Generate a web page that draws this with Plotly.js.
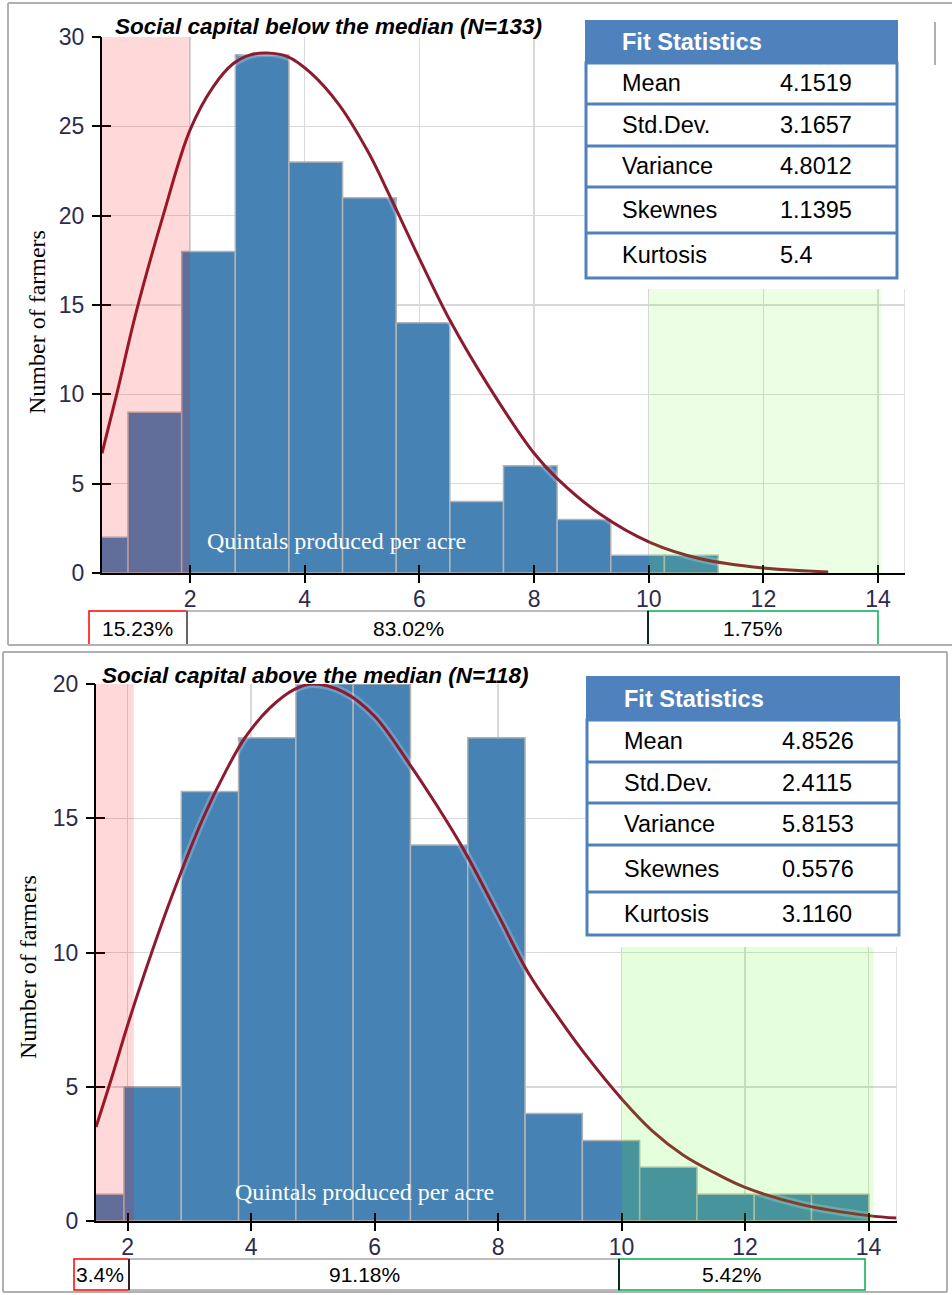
<!DOCTYPE html>
<html>
<head>
<meta charset="utf-8">
<script src="https://cdn.plot.ly/plotly-3.0.1.min.js"></script>
<style>
  html, body { margin: 0; padding: 0; background: #fff; }
  #chart { width: 952px; height: 1295px; }
</style>
</head>
<body>
<div id="chart"></div>
<script>
// Quintals produced per acre: histograms with fitted curves, split by social capital

// --- below-median group -------------------------------------------------
const countsBelow = [2, 9, 18, 29, 23, 21, 14, 4, 6, 3, 1, 1];
const binStartBelow = -0.018;
const binWidthBelow = 0.9356;
const fitXBelow = [0.464, 0.72, 1.06, 1.53, 2.0, 2.4, 2.75, 3.05, 3.34, 3.7, 4.1, 4.6, 5.1, 5.5, 6.0, 6.54, 7.18, 8.0, 8.4, 9.15, 10.03, 10.9, 12.0, 13.13];
const fitYBelow = [6.7, 10.0, 14.6, 20.0, 24.8, 27.2, 28.5, 29.0, 29.1, 28.9, 28.0, 26.2, 23.6, 21.0, 17.6, 14.1, 10.6, 6.7, 5.3, 3.3, 1.7, 0.8, 0.28, 0.06];
const statsBelow = ['4.1519', '3.1657', '4.8012', '1.1395', '5.4'];
const sharesBelow = ['15.23%', '83.02%', '1.75%'];
const titleBelow = 'Social capital below the median (N=133)';

// --- above-median group -------------------------------------------------
const countsAbove = [1, 5, 16, 18, 20, 20, 14, 18, 4, 3, 2, 1, 1, 1];
const binStartAbove = 1.012;
const binWidthAbove = 0.928;
const fitXAbove = [1.487, 1.75, 2.0, 2.27, 2.7, 3.22, 3.6, 3.9, 4.3, 4.7, 5.0, 5.5, 6.0, 6.57, 7.0, 7.45, 8.0, 8.5, 9.0, 9.38, 10.02, 10.5, 11.0, 11.5, 12.0, 12.9, 14.0, 14.46];
const fitYAbove = [3.5, 5.4, 7.3, 9.2, 12.0, 15.0, 16.8, 18.0, 19.1, 19.8, 20.0, 19.7, 18.8, 17.0, 15.5, 13.8, 11.4, 9.2, 7.5, 6.3, 4.5, 3.35, 2.45, 1.8, 1.25, 0.62, 0.2, 0.11];
const statsAbove = ['4.8526', '2.4115', '5.8153', '0.5576', '3.1160'];
const sharesAbove = ['3.4%', '91.18%', '5.42%'];
const titleAbove = 'Social capital above the median (N=118)';

// --- shared labels -------------------------------------------------------
const statLabels = ['Mean', 'Std.Dev.', 'Variance', 'Skewnes', 'Kurtosis'];
const tableTitle = 'Fit Statistics';
const xTicks = [2, 4, 6, 8, 10, 12, 14];
const yTitle = 'Number of farmers';
const xTitle = 'Quintals produced per acre';

const W = 952, H = 1295;
const px = v => v / W;
const py = v => 1 - v / H;

const SANS = 'Liberation Sans, Arial, sans-serif';
const SERIF = 'Liberation Serif, Times New Roman, serif';
const TICK_COLOR = '#2b2b4f';
const BLUE = '#4F81BD';

const panels = [
  {
    xa: 'x', ya: 'y', xt: 'x3', yt: 'y3',
    left: 102, right: 905, top: 37, bottom: 573,
    xRange: [0.464, 14.47], yMax: 30,
    counts: countsBelow, binStart: binStartBelow, binWidth: binWidthBelow,
    fitX: fitXBelow, fitY: fitYBelow, stats: statsBelow, shares: sharesBelow,
    title: titleBelow, titleX: 328, titleY: 26,
    yLabX: 37, yLabY: 322, xLabX: 336, xLabY: 541,
    lowCut: 2.0, highCut: 10, highEnd: 14.05, green: 'rgba(80,255,30,0.12)',
    table: { left: 586, right: 897, rows: [21, 63, 104, 146, 187, 233, 278], labelX: 620, valueX: 778 },
    cover: { x0: 584, x1: 912, y0: 12, y1: 289 },
    boxes: { y0: 611, y1: 645, edges: [89, 187, 648, 878], textX: [137, 408, 753], midEdge: '#555' }
  },
  {
    xa: 'x2', ya: 'y2', xt: 'x4', yt: 'y4',
    left: 96, right: 897, top: 684, bottom: 1221,
    xRange: [1.487, 14.46], yMax: 20,
    counts: countsAbove, binStart: binStartAbove, binWidth: binWidthAbove,
    fitX: fitXAbove, fitY: fitYAbove, stats: statsAbove, shares: sharesAbove,
    title: titleAbove, titleX: 315, titleY: 675,
    yLabX: 28, yLabY: 967, xLabX: 364, xLabY: 1192,
    lowCut: 2.1, highCut: 10, highEnd: 14.08, green: 'rgba(80,255,30,0.15)',
    table: { left: 587, right: 899, rows: [677, 720, 762, 803, 845, 892, 935], labelX: 622, valueX: 780 },
    cover: { x0: 585, x1: 905, y0: 660, y1: 947 },
    boxes: { y0: 1259, y1: 1290, edges: [74, 129, 619, 865], textX: [100, 364, 732], midEdge: '#000' }
  }
];

const data = [];
const shapes = [];
const annotations = [];
const layout = {
  width: W, height: H,
  margin: { l: 0, r: 0, t: 0, b: 0 },
  paper_bgcolor: '#fff', plot_bgcolor: '#fff',
  showlegend: false, hovermode: false
};

function axisName(a) { return a === 'x' || a === 'y' ? a + 'axis' : a[0] + 'axis' + a.slice(1); }

panels.forEach(p => {
  const xDomain = [px(p.left), px(p.right)];
  const yDomain = [py(p.bottom), py(p.top)];
  const yTicks = [];
  for (let v = 0; v <= p.yMax; v += 5) yTicks.push(v);

  const tickFont = { family: SANS, size: 23, color: TICK_COLOR };

  // main axes: labels, grid, axis line and the inner half of each tick
  layout[axisName(p.xa)] = {
    domain: xDomain, range: p.xRange, anchor: p.ya,
    tickmode: 'array', tickvals: xTicks, ticktext: xTicks.map(String),
    ticks: 'inside', ticklen: 8, tickwidth: 2, tickcolor: '#000',
    showline: true, linecolor: '#000', linewidth: 2,
    showgrid: true, gridcolor: '#d9d9d9', gridwidth: 1.5, zeroline: false,
    tickfont: tickFont, ticklabelstandoff: 4, fixedrange: true
  };
  layout[axisName(p.ya)] = {
    domain: yDomain, range: [0, p.yMax], anchor: p.xa,
    tickmode: 'array', tickvals: yTicks, ticktext: yTicks.map(String),
    ticks: 'inside', ticklen: 9, tickwidth: 2, tickcolor: '#000',
    showline: true, linecolor: '#000', linewidth: 2,
    showgrid: true, gridcolor: '#d9d9d9', gridwidth: 1.5, zeroline: false,
    tickfont: tickFont, ticklabelstandoff: 11, fixedrange: true
  };
  // companion axes carry the outer half of each tick mark
  layout[axisName(p.xt)] = {
    overlaying: p.xa, range: p.xRange, anchor: p.yt,
    tickmode: 'array', tickvals: xTicks, ticks: 'outside', ticklen: 9, tickwidth: 2, tickcolor: '#000',
    showticklabels: false, showgrid: false, zeroline: false, showline: false, fixedrange: true
  };
  layout[axisName(p.yt)] = {
    overlaying: p.ya, range: [0, p.yMax], anchor: p.xt,
    tickmode: 'array', tickvals: yTicks, ticks: 'outside', ticklen: 9, tickwidth: 2, tickcolor: '#000',
    showticklabels: false, showgrid: false, zeroline: false, showline: false, fixedrange: true
  };

  // histogram bars
  const centers = p.counts.map((_, i) => p.binStart + (i + 0.5) * p.binWidth);
  data.push({
    type: 'bar', x: centers, y: p.counts, width: p.binWidth,
    xaxis: p.xa, yaxis: p.ya,
    marker: { color: '#4682B4', line: { color: '#b3b3b3', width: 1.5 } },
    hoverinfo: 'skip'
  });
  // soft halo under the fitted curve
  data.push({
    type: 'scatter', mode: 'lines', x: p.fitX, y: p.fitY,
    xaxis: p.xa, yaxis: p.ya,
    line: { color: 'rgba(255,255,255,0.22)', width: 8, shape: 'spline', smoothing: 1 },
    hoverinfo: 'skip'
  });
  // fitted density curve
  data.push({
    type: 'scatter', mode: 'lines', x: p.fitX, y: p.fitY,
    xaxis: p.xa, yaxis: p.ya,
    line: { color: '#8c1a30', width: 3, shape: 'spline', smoothing: 1 },
    hoverinfo: 'skip'
  });
  data.push({ type: 'scatter', mode: 'lines', x: [], y: [], xaxis: p.xt, yaxis: p.yt, hoverinfo: 'skip' });

  // tail regions
  shapes.push({
    type: 'rect', layer: 'above', xref: p.xa, yref: p.ya,
    x0: p.xRange[0], x1: p.lowCut, y0: -0.012 * p.yMax, y1: p.yMax,
    fillcolor: 'rgba(255,0,0,0.15)', line: { width: 0 }
  });
  shapes.push({
    type: 'rect', layer: 'above', xref: p.xa, yref: p.ya,
    x0: p.highCut, x1: p.highEnd, y0: -0.01 * p.yMax, y1: p.yMax,
    fillcolor: p.green, line: { width: 0 }
  });
  // right edge of the plotting area
  shapes.push({
    type: 'line', layer: 'above', xref: p.xa, yref: p.ya,
    x0: p.xRange[1], x1: p.xRange[1], y0: 0, y1: p.yMax,
    line: { color: '#d9d9d9', width: 1.5 }
  });

  // fit statistics table
  const t = p.table;
  shapes.push({
    type: 'rect', layer: 'above', xref: 'paper', yref: 'paper',
    x0: px(p.cover.x0), x1: px(p.cover.x1), y0: py(p.cover.y1), y1: py(p.cover.y0),
    fillcolor: '#fff', line: { width: 0 }
  });
  shapes.push({
    type: 'rect', layer: 'above', xref: 'paper', yref: 'paper',
    x0: px(t.left), x1: px(t.right), y0: py(t.rows[1]), y1: py(t.rows[0]),
    fillcolor: BLUE, line: { color: BLUE, width: 2 }
  });
  shapes.push({
    type: 'rect', layer: 'above', xref: 'paper', yref: 'paper',
    x0: px(t.left), x1: px(t.right), y0: py(t.rows[t.rows.length - 1]), y1: py(t.rows[1]),
    fillcolor: '#fff', line: { color: BLUE, width: 3 }
  });
  for (let i = 2; i < t.rows.length - 1; i++) {
    shapes.push({
      type: 'line', layer: 'above', xref: 'paper', yref: 'paper',
      x0: px(t.left), x1: px(t.right), y0: py(t.rows[i]), y1: py(t.rows[i]),
      line: { color: BLUE, width: 3 }
    });
  }
  annotations.push({
    xref: 'paper', yref: 'paper', x: px(t.labelX), y: py((t.rows[0] + t.rows[1]) / 2),
    xanchor: 'left', yanchor: 'middle', showarrow: false,
    text: '<b>' + tableTitle + '</b>', font: { family: SANS, size: 23.5, color: '#fff' }
  });
  statLabels.forEach((lab, i) => {
    const yc = py((t.rows[i + 1] + t.rows[i + 2]) / 2);
    annotations.push({
      xref: 'paper', yref: 'paper', x: px(t.labelX), y: yc,
      xanchor: 'left', yanchor: 'middle', showarrow: false,
      text: lab, font: { family: SANS, size: 23.5, color: '#000' }
    });
    annotations.push({
      xref: 'paper', yref: 'paper', x: px(t.valueX), y: yc,
      xanchor: 'left', yanchor: 'middle', showarrow: false,
      text: p.stats[i], font: { family: SANS, size: 23.5, color: '#000' }
    });
  });

  // share boxes under the axis
  const b = p.boxes;
  const boxColors = ['#ff0000', '#a6a6a6', '#00b050'];
  [0, 1, 2].forEach(i => {
    shapes.push({
      type: 'rect', layer: 'above', xref: 'paper', yref: 'paper',
      x0: px(b.edges[i]), x1: px(b.edges[i + 1]), y0: py(b.y1), y1: py(b.y0),
      fillcolor: 'rgba(0,0,0,0)', line: { color: boxColors[i], width: 1.5 }
    });
  });
  shapes.push({
    type: 'line', layer: 'above', xref: 'paper', yref: 'paper',
    x0: px(b.edges[1]), x1: px(b.edges[1]), y0: py(b.y1), y1: py(b.y0),
    line: { color: b.midEdge, width: 1.5 }
  });
  shapes.push({
    type: 'line', layer: 'above', xref: 'paper', yref: 'paper',
    x0: px(b.edges[2]), x1: px(b.edges[2]), y0: py(b.y1), y1: py(b.y0),
    line: { color: '#000', width: 1.5 }
  });
  p.shares.forEach((s, i) => {
    annotations.push({
      xref: 'paper', yref: 'paper', x: px(b.textX[i]), y: py((b.y0 + b.y1) / 2),
      xanchor: 'center', yanchor: 'middle', showarrow: false,
      text: s, font: { family: SANS, size: 21, color: '#000' }
    });
  });

  // titles and axis labels
  annotations.push({
    xref: 'paper', yref: 'paper', x: px(p.titleX), y: py(p.titleY),
    xanchor: 'center', yanchor: 'middle', showarrow: false,
    text: '<b><i>' + p.title + '</i></b>', font: { family: SANS, size: 22.5, color: '#000' }
  });
  annotations.push({
    xref: 'paper', yref: 'paper', x: px(p.yLabX), y: py(p.yLabY),
    xanchor: 'center', yanchor: 'middle', showarrow: false, textangle: -90,
    text: yTitle, font: { family: SERIF, size: 24, color: '#000' }
  });
  annotations.push({
    xref: 'paper', yref: 'paper', x: px(p.xLabX), y: py(p.xLabY),
    xanchor: 'center', yanchor: 'middle', showarrow: false,
    text: xTitle, font: { family: SERIF, size: 24, color: '#fff' }
  });
});

// panel frames
const frame = { color: '#b0b0b0', width: 2 };
[
  [8, 3, 952, 3], [8, 3, 8, 645], [8, 645, 952, 645],
  [3, 652, 947, 652], [3, 652, 3, 1292], [947, 652, 947, 1292], [3, 1292, 947, 1292],
  [935, 22, 935, 65]
].forEach(([x0, y0, x1, y1]) => {
  shapes.push({
    type: 'line', layer: 'above', xref: 'paper', yref: 'paper',
    x0: px(x0), x1: px(x1), y0: py(y0), y1: py(y1), line: frame
  });
});

layout.shapes = shapes;
layout.annotations = annotations;

Plotly.newPlot('chart', data, layout, { staticPlot: true, displayModeBar: false });
</script>
</body>
</html>
